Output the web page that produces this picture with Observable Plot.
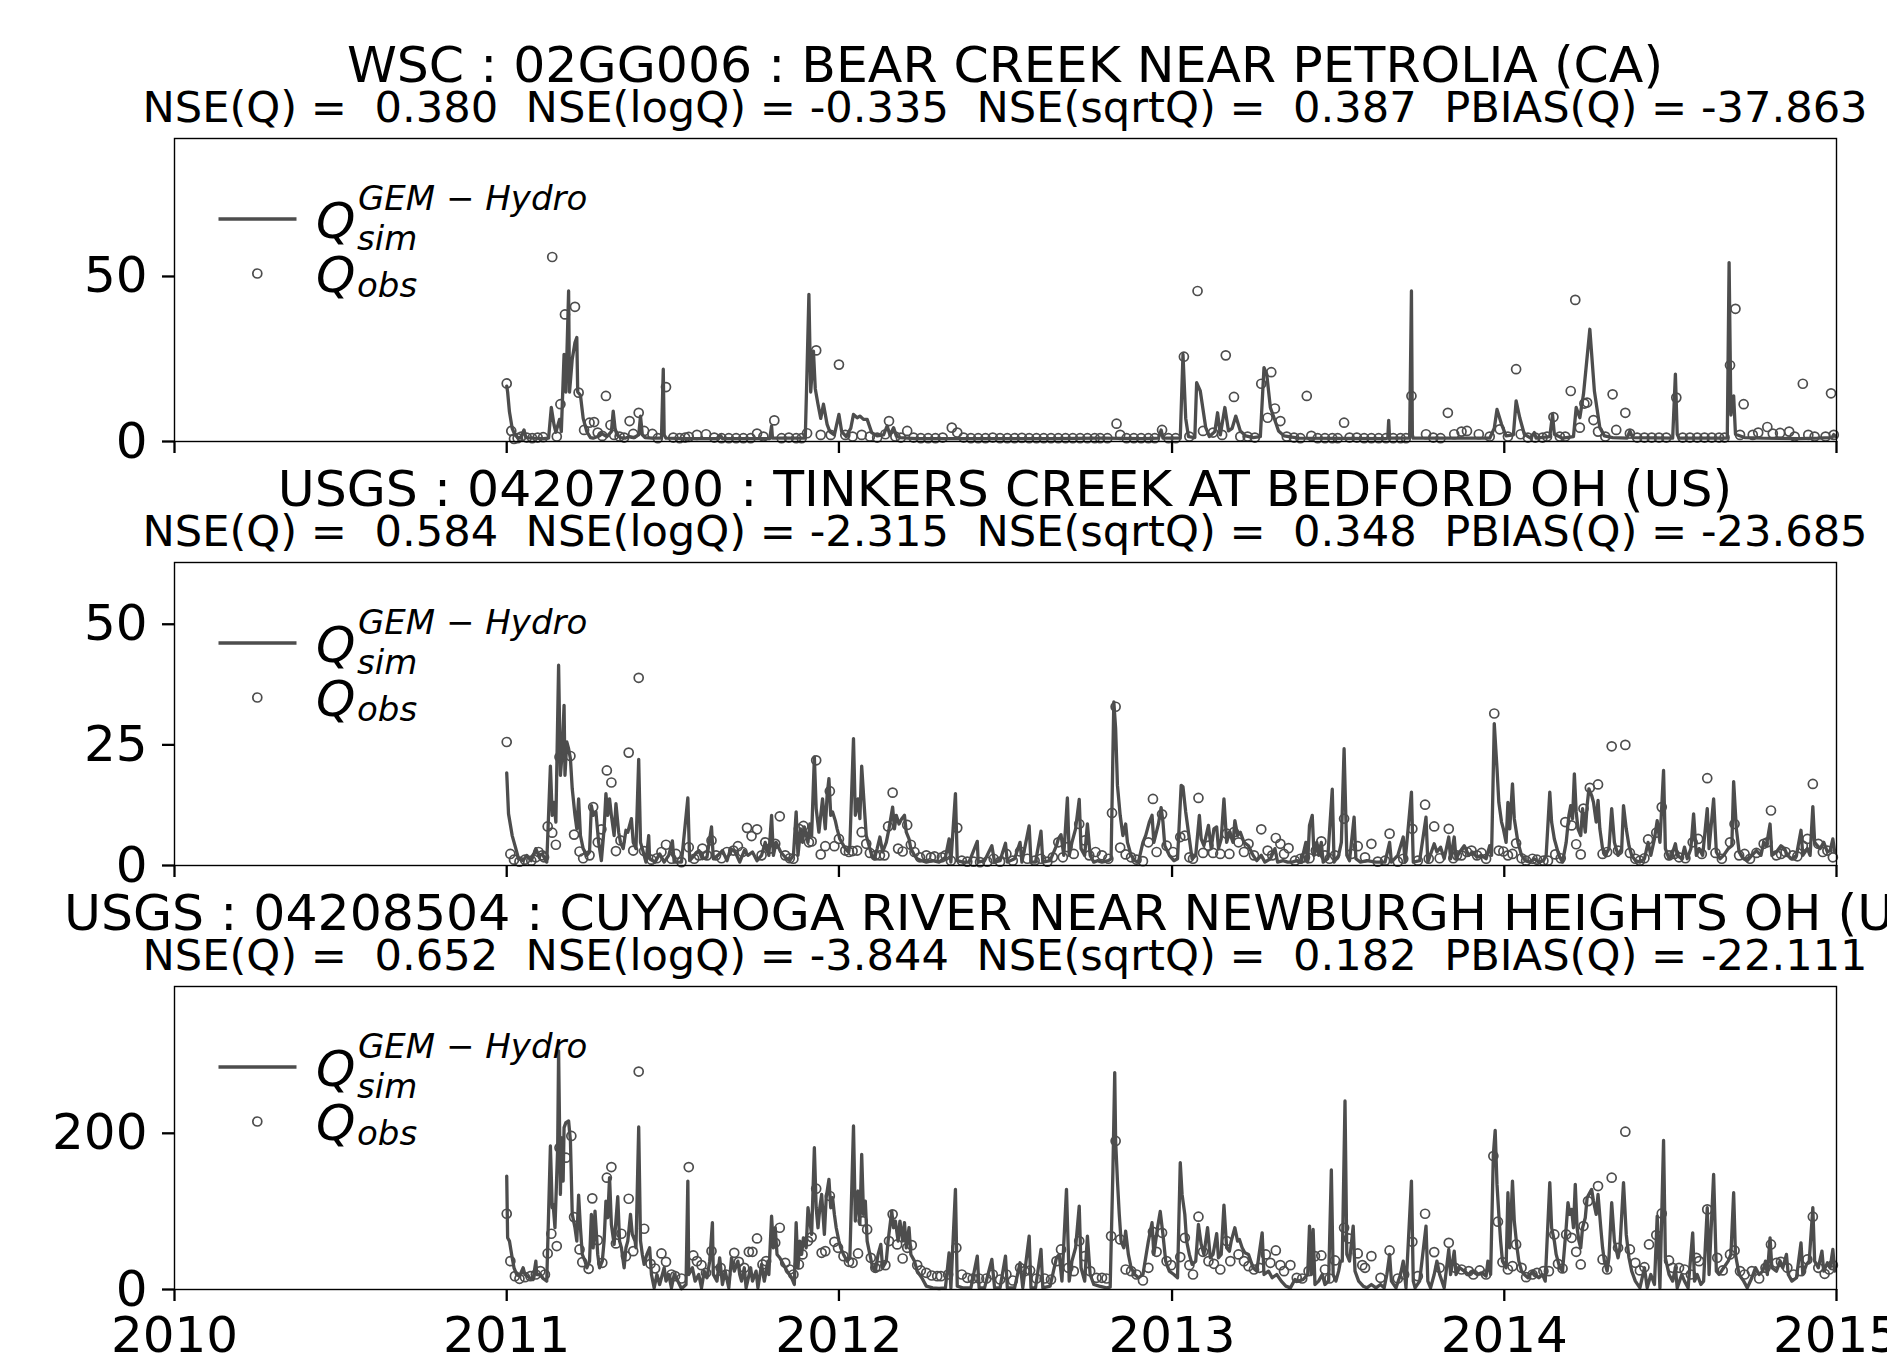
<!DOCTYPE html>
<html>
<head>
<meta charset="utf-8">
<script src="https://cdn.jsdelivr.net/npm/d3@7"></script>
<script src="https://cdn.jsdelivr.net/npm/@observablehq/plot@0.6"></script>
<style>
  html, body { margin: 0; padding: 0; background: #ffffff; }
  #fig { position: relative; width: 1887px; height: 1355px; overflow: hidden; background: #ffffff; font-family: "DejaVu Sans"; }
  #fig svg.plotpanel { position: absolute; left: 0; }
</style>
</head>
<body>
<div id="fig"></div>
<script>
// ---------------- data (day offset from 2011-01-01, discharge) ----------------
const titles = [
  "WSC : 02GG006 : BEAR CREEK NEAR PETROLIA (CA)",
  "USGS : 04207200 : TINKERS CREEK AT BEDFORD OH (US)",
  "USGS : 04208504 : CUYAHOGA RIVER NEAR NEWBURGH HEIGHTS OH (US)"
];
const stats = [
  "NSE(Q) =  0.380  NSE(logQ) = -0.335  NSE(sqrtQ) =  0.387  PBIAS(Q) = -37.863",
  "NSE(Q) =  0.584  NSE(logQ) = -2.315  NSE(sqrtQ) =  0.348  PBIAS(Q) = -23.685",
  "NSE(Q) =  0.652  NSE(logQ) = -3.844  NSE(sqrtQ) =  0.182  PBIAS(Q) = -22.111"
];
const xTickYears = [2010, 2011, 2012, 2013, 2014, 2015];
const yTicks1 = [0, 50];
const yTicks2 = [0, 25, 50];
const yTicks3 = [0, 200];
const yMax = [91.8, 62.8, 388];

const sim1 = [[0,16.8],[1,15],[3,9],[6,4],[9,2],[12,1.2],[15,1],[19,3.5],[21,1.2],[30,1],[40,0.9],[46,1],[49,10.3],[52,5],[54,2.8],[58,6.7],[60,3],[63,26.4],[65,15],[68,45.6],[69,15],[72,25],[75,30],[77,31.5],[78,15],[81,14],[84,7],[88,3],[92,1.2],[95,1],[100,1.5],[104,2.5],[110,1.5],[115,3],[117,9.2],[119,4],[121,2],[125,1.2],[130,1],[135,1.5],[140,1.2],[145,2],[147,7.7],[149,2],[152,1.2],[160,1],[170,1],[172,21.9],[173,2],[175,1],[200,0.9],[233,0.9],[235,1.8],[237,0.9],[289,0.9],[291,4.7],[292,1],[328,1],[330,22],[332,44.6],[334,15],[337,27.4],[339,16],[342,11.3],[345,7],[348,11.3],[352,5.2],[355,3],[360,2],[365,8.2],[368,3],[373,1.5],[378,4],[381,8.2],[385,7.2],[388,7.7],[392,6.7],[396,6.7],[401,2.7],[407,1.7],[414,2],[418,4.7],[421,2],[425,4.2],[428,1.7],[432,1.2],[450,0.9],[520,0.9],[600,0.9],[652,1],[700,0.9],[716,1],[719,3.5],[721,1],[740,1],[743,26.4],[746,7],[749,1.5],[756,1.2],[758,17.8],[762,15.3],[768,4.2],[772,1.5],[778,3],[781,8.7],[784,2],[789,10.3],[793,3.2],[797,4],[801,7.7],[806,3.2],[812,1.7],[820,1.2],[828,1.5],[832,22.4],[835,20.4],[839,10.3],[843,7.2],[848,3.2],[854,1.7],[870,1],[965,0.9],[968,1],[969,6.4],[970,1],[992,1],[994,45.6],[995,2],[996,1],[1080,1],[1085,4],[1088,9.7],[1093,5.2],[1098,1.7],[1106,2],[1109,12.3],[1113,7.2],[1118,2.2],[1125,1],[1129,2.7],[1131,1],[1146,1.5],[1149,8.2],[1151,2.2],[1160,1],[1172,1.5],[1175,10.3],[1179,7.2],[1183,14.3],[1190,34],[1195,15.3],[1201,4.2],[1206,1.7],[1215,1.2],[1231,1],[1234,3.2],[1237,1.2],[1281,1],[1284,20.4],[1286,2.2],[1288,1],[1341,1],[1343,54.2],[1345,8],[1347,13.3],[1348,13.8],[1350,2.2],[1360,1.2],[1380,1],[1420,0.9],[1440,1],[1456,1.2],[1458,2.1],[1460,1.5]];

const obs1 = [[0,17.6],[5,3.2],[8,0.8],[12,1],[16,1.5],[22,1.2],[28,1],[34,1.2],[40,1.3],[50,55.9],[55,1.5],[59,11.3],[64,38.5],[75,40.8],[79,14.8],[85,3.5],[91,5.7],[96,5.9],[100,2.7],[105,1.7],[109,13.8],[114,5],[118,2],[124,1.5],[129,1.2],[135,6.2],[139,2.3],[145,8.7],[151,3.2],[160,2.3],[166,1],[175,16.5],[183,1.2],[190,1],[196,1.2],[200,1.4],[209,2],[219,2.2],[228,1.2],[236,1],[244,1],[252,1],[260,1],[268,1],[275,2.4],[282,1.5],[294,6.4],[302,1],[310,1.2],[318,1],[324,1],[330,2.5],[340,27.6],[345,2],[356,2],[365,23.3],[372,2],[380,1.5],[390,2],[399,1.5],[407,1.2],[416,2.2],[420,6.2],[427,1.5],[433,1.2],[440,3.2],[447,1.2],[455,1],[463,1],[471,1],[479,1.2],[489,4.2],[495,2.7],[502,1.2],[510,1],[518,1],[526,1],[534,1.2],[542,1],[550,1],[558,1],[566,1.1],[574,1],[582,1],[590,1],[598,1],[606,1],[614,1],[622,1],[630,1],[638,1],[646,1],[652,1],[660,1],[670,5.4],[674,2],[681,1],[689,1],[697,1],[705,1],[712,1],[720,3.5],[727,1],[735,1],[744,25.7],[750,1.5],[759,45.6],[765,3.2],[776,2.7],[786,2],[790,26.1],[799,13.5],[806,1.5],[814,1.5],[822,1.2],[829,17.5],[836,7.2],[840,21],[844,10],[850,6.2],[857,1.5],[865,1.2],[872,1],[879,13.8],[884,1.7],[891,1],[899,1],[907,1],[913,1],[920,5.7],[926,1.2],[934,1.2],[942,1],[950,1],[958,1],[966,1],[974,1],[982,1],[988,1],[994,13.8],[1010,2.2],[1018,1.2],[1026,1],[1034,8.7],[1041,2.2],[1049,3],[1055,3.2],[1068,2.2],[1080,1.5],[1091,3.7],[1100,1.5],[1109,21.9],[1114,2.2],[1122,1.2],[1130,1.2],[1138,1.2],[1143,1.5],[1150,7.4],[1157,1.5],[1163,1.5],[1169,15.3],[1174,42.9],[1179,4.2],[1184,11.5],[1187,11.8],[1194,6.5],[1199,3],[1207,1.5],[1215,14.3],[1219,3.5],[1229,8.7],[1234,2.4],[1242,1.2],[1250,1.2],[1258,1.2],[1266,1.2],[1274,1.2],[1285,13.3],[1292,1.2],[1300,1.2],[1308,1.2],[1316,1.2],[1324,1.2],[1332,1.2],[1338,1.2],[1344,23.1],[1350,40.2],[1355,2],[1359,11.3],[1369,2],[1375,2.7],[1385,4.4],[1391,2.4],[1399,2.6],[1409,3],[1415,1.5],[1424,17.5],[1430,2],[1437,1.5],[1449,1.5],[1455,14.6],[1458,2]];

const sim2 = [[0,19.2],[2,10.7],[6,6.2],[10,3.5],[13,1.4],[18,1.0],[22,2.1],[27,1.0],[32,3.5],[35,2.1],[39,2.4],[44,0.7],[48,20.6],[50,10.4],[52,13.1],[54,9.0],[57,41.5],[59,18.7],[61,23.5],[63,33.2],[64,18.7],[66,25.6],[68,24.2],[70,22.1],[72,15.9],[75,10.4],[77,7.6],[79,13.8],[81,6.2],[84,3.5],[88,2.1],[91,2.8],[93,12.4],[95,10.4],[98,11.1],[101,4.8],[104,1.0],[107,7.6],[109,14.9],[111,10.4],[113,13.8],[115,10.4],[118,6.2],[120,12.8],[123,6.9],[125,4.8],[128,3.5],[131,7.3],[133,6.9],[137,9.7],[139,4.8],[142,3.5],[145,22.0],[147,4.8],[150,2.8],[153,0.7],[156,6.2],[157,1.4],[163,0.7],[168,2.4],[173,0.7],[178,2.1],[182,5.1],[184,0.7],[192,0.7],[199,14.0],[201,1.0],[206,2.1],[211,3.1],[215,1.4],[220,1.7],[223,5.5],[225,8.0],[227,1.4],[232,2.1],[237,3.1],[242,1.0],[246,3.5],[251,2.8],[256,0.7],[261,3.1],[265,2.1],[270,2.8],[275,1.0],[280,2.1],[284,4.8],[288,2.1],[291,10.4],[293,2.1],[296,4.8],[301,2.8],[306,1.7],[311,1.0],[315,2.1],[318,11.1],[320,2.1],[323,7.6],[325,4.8],[327,8.0],[331,4.8],[333,8.6],[335,6.2],[338,22.5],[340,11.8],[343,6.9],[345,10.4],[347,13.8],[350,7.6],[352,14.5],[354,18.0],[356,10.4],[358,11.1],[361,9.3],[363,7.6],[366,5.5],[369,4.5],[372,3.5],[375,2.9],[377,4.1],[381,26.3],[383,10.4],[386,13.8],[388,9.7],[390,20.6],[393,11.8],[395,6.2],[399,3.5],[401,2.1],[404,1.4],[407,3.5],[410,5.9],[413,2.8],[417,4.8],[420,7.6],[424,12.1],[426,7.6],[428,10.4],[431,8.6],[434,9.7],[437,10.4],[439,6.9],[442,5.5],[444,3.5],[448,2.1],[451,1.4],[456,1.0],[461,0.7],[468,1.0],[475,0.7],[482,1.7],[486,5.5],[488,0.7],[493,14.9],[495,1.0],[501,0.7],[508,0.7],[517,5.0],[518,0.7],[525,1.0],[533,4.1],[536,0.7],[542,1.0],[548,4.6],[550,0.7],[558,1.4],[564,4.8],[566,0.7],[574,8.2],[576,0.7],[581,0.7],[587,7.1],[589,0.7],[597,1.0],[604,4.1],[606,5.5],[609,6.4],[612,2.1],[616,14.0],[618,2.1],[621,4.8],[625,7.6],[629,13.7],[631,3.5],[635,2.1],[638,8.6],[641,2.1],[645,0.7],[649,1.0],[654,0.7],[661,1.0],[664,1.4],[667,33.9],[669,28.4],[671,16.6],[674,10.4],[677,6.2],[680,8.6],[682,4.8],[686,2.1],[690,1.0],[694,0.7],[699,4.8],[702,6.2],[706,9.0],[709,10.4],[711,4.8],[716,8.6],[719,12.0],[721,9.0],[723,4.1],[728,2.1],[733,1.0],[737,1.4],[741,16.6],[743,16.3],[746,11.1],[750,5.5],[753,1.4],[757,2.1],[761,10.4],[763,5.5],[766,4.1],[771,8.3],[774,3.5],[777,7.6],[780,8.0],[782,3.5],[785,5.5],[788,13.8],[791,4.8],[794,6.9],[798,4.8],[800,9.3],[803,6.2],[806,6.9],[810,4.8],[815,4.1],[820,2.1],[824,1.0],[829,2.1],[833,0.7],[839,1.4],[844,3.5],[847,0.7],[853,1.0],[858,0.7],[863,0.7],[868,1.0],[873,0.7],[878,4.8],[880,0.7],[882,8.3],[885,10.4],[887,2.1],[890,4.8],[892,2.1],[895,4.8],[897,0.7],[902,1.4],[907,15.8],[909,0.7],[914,2.1],[917,4.8],[920,24.2],[923,2.1],[926,1.0],[931,10.0],[933,1.4],[938,0.7],[945,1.0],[955,0.7],[965,0.7],[970,4.8],[972,0.7],[979,2.1],[985,5.9],[987,0.7],[994,15.2],[996,0.7],[1003,1.0],[1010,10.0],[1012,0.7],[1019,4.5],[1022,2.8],[1026,3.8],[1030,1.4],[1035,5.9],[1037,1.4],[1041,5.9],[1043,1.4],[1047,2.8],[1052,4.1],[1057,2.1],[1061,2.8],[1066,1.7],[1071,2.1],[1076,1.4],[1080,4.1],[1082,2.1],[1085,29.4],[1088,20.1],[1090,13.1],[1093,9.0],[1095,7.6],[1098,4.8],[1100,13.1],[1102,7.6],[1105,16.9],[1107,9.7],[1111,4.8],[1115,2.1],[1119,1.0],[1124,0.7],[1129,1.4],[1134,0.7],[1139,1.0],[1142,2.1],[1146,15.2],[1148,9.0],[1151,5.5],[1156,2.1],[1160,0.7],[1164,4.8],[1167,10.4],[1169,12.4],[1171,9.7],[1173,19.0],[1175,11.1],[1177,7.6],[1180,6.2],[1182,11.8],[1185,6.9],[1187,12.4],[1189,15.9],[1192,14.5],[1194,13.1],[1197,9.0],[1199,13.5],[1201,7.6],[1204,3.5],[1207,2.1],[1211,3.5],[1214,11.8],[1217,4.8],[1221,2.1],[1225,3.5],[1227,12.4],[1230,7.6],[1233,4.1],[1236,2.1],[1240,1.0],[1245,0.7],[1250,1.4],[1254,4.8],[1257,2.1],[1261,5.5],[1264,9.3],[1267,4.8],[1271,19.7],[1273,3.5],[1277,1.4],[1280,2.1],[1284,4.5],[1286,2.1],[1291,1.4],[1294,3.8],[1297,1.4],[1301,3.5],[1304,10.7],[1307,2.1],[1310,3.5],[1314,2.1],[1319,11.8],[1321,3.5],[1326,13.8],[1329,2.8],[1333,1.4],[1337,2.1],[1342,3.5],[1346,4.1],[1348,17.4],[1351,7.6],[1354,2.8],[1359,1.4],[1363,1.0],[1368,2.1],[1373,3.1],[1378,2.1],[1381,4.8],[1384,4.1],[1388,8.6],[1390,2.1],[1395,2.8],[1400,4.1],[1404,3.5],[1407,2.1],[1412,1.4],[1417,2.1],[1422,7.3],[1424,2.1],[1429,3.5],[1432,2.1],[1435,12.2],[1437,4.8],[1440,4.1],[1443,3.5],[1447,4.8],[1451,2.8],[1454,3.1],[1457,5.5],[1459,2.8]];

const obs2 = [[0,25.6],[4,2.4],[8,1.2],[14,0.8],[20,1.2],[27,1.0],[32,1.7],[35,2.8],[39,2.1],[41,1.7],[45,8.1],[50,6.8],[54,4.3],[58,22.5],[70,22.7],[74,6.4],[80,2.9],[84,1.5],[91,2.1],[95,12.1],[100,4.8],[104,7.5],[110,19.7],[115,17.2],[120,3.0],[125,5.2],[134,23.4],[139,3.1],[145,38.9],[151,3.0],[159,1.2],[165,1.5],[170,2.8],[175,4.3],[181,1.4],[186,2.4],[192,0.7],[200,3.8],[206,1.4],[211,2.1],[215,3.5],[220,2.1],[225,5.2],[230,2.1],[236,1.5],[242,2.8],[249,3.1],[254,4.0],[259,2.8],[264,7.8],[269,6.1],[275,7.5],[280,2.1],[284,4.8],[289,3.5],[295,4.5],[300,10.2],[306,2.1],[311,1.5],[315,1.4],[321,7.6],[326,8.2],[332,4.8],[335,5.0],[340,21.8],[345,2.3],[350,4.0],[355,15.4],[360,4.0],[365,5.5],[372,3.1],[376,2.8],[380,3.0],[385,3.1],[390,6.9],[395,4.5],[399,2.6],[405,2.1],[410,2.1],[415,2.1],[419,8.1],[424,15.1],[430,3.5],[435,2.9],[440,8.4],[444,4.3],[448,2.8],[454,1.7],[461,2.1],[466,1.7],[470,1.9],[478,1.7],[482,2.1],[488,1.0],[495,7.8],[500,1.0],[506,0.8],[513,0.8],[520,0.7],[528,0.8],[535,1.4],[542,0.8],[549,2.4],[556,1.0],[564,2.9],[572,1.4],[580,1.0],[587,1.4],[594,0.8],[600,1.7],[606,4.8],[611,1.7],[616,3.8],[623,2.4],[629,8.6],[635,5.2],[640,2.1],[647,2.8],[654,2.1],[661,1.4],[665,10.9],[669,32.9],[674,3.7],[680,2.3],[686,1.7],[692,1.2],[699,0.9],[705,4.8],[710,13.8],[714,2.8],[720,10.6],[725,4.1],[732,2.8],[740,5.9],[745,6.2],[750,1.7],[754,1.4],[760,14.0],[765,2.6],[771,4.1],[776,2.6],[784,2.4],[791,6.6],[794,2.4],[799,6.9],[804,4.8],[810,2.8],[815,4.5],[821,2.1],[829,7.5],[836,3.1],[841,2.1],[845,5.7],[850,4.5],[854,2.4],[859,3.6],[866,1.0],[872,1.4],[877,1.7],[882,1.5],[889,3.1],[895,5.0],[899,2.1],[904,1.4],[910,2.1],[920,9.7],[928,2.4],[935,4.0],[943,1.7],[950,4.5],[957,0.8],[965,1.0],[970,6.6],[979,0.8],[985,1.4],[995,7.6],[1001,1.0],[1009,12.6],[1013,1.4],[1019,8.1],[1025,1.5],[1035,7.6],[1040,1.5],[1044,2.1],[1049,2.1],[1055,2.8],[1060,3.1],[1066,2.1],[1071,2.6],[1076,1.4],[1085,31.5],[1090,3.1],[1095,2.9],[1100,2.1],[1105,2.4],[1109,4.6],[1115,1.5],[1120,1.0],[1127,1.4],[1132,1.2],[1139,1.0],[1144,1.0],[1152,2.3],[1158,1.5],[1163,9.0],[1170,8.3],[1175,4.4],[1180,2.3],[1183,11.8],[1190,16.1],[1199,16.8],[1204,2.4],[1209,2.8],[1214,24.7],[1221,3.1],[1229,25.0],[1234,2.6],[1240,1.4],[1245,1.0],[1250,1.5],[1254,5.4],[1263,6.8],[1269,12.1],[1277,2.1],[1283,2.4],[1288,1.7],[1295,1.5],[1303,4.8],[1309,5.5],[1313,2.4],[1319,18.1],[1328,2.6],[1335,1.4],[1344,4.8],[1349,8.6],[1354,2.1],[1360,2.4],[1366,1.4],[1373,2.6],[1381,4.5],[1385,4.8],[1389,11.4],[1395,2.1],[1400,2.4],[1405,2.8],[1413,2.1],[1418,1.9],[1424,4.1],[1429,5.5],[1435,16.9],[1441,4.5],[1446,2.8],[1451,3.1],[1457,1.7]];

const sim3 = [[0,145.3],[1,66.2],[3,62.0],[6,40.6],[8,27.8],[11,19.2],[14,17.1],[18,27.8],[20,19.2],[25,15.0],[29,12.8],[32,36.3],[33,19.2],[37,19.2],[40,14.1],[44,10.7],[48,183.8],[50,104.7],[51,109.0],[53,79.1],[56,181.6],[57,305.6],[59,121.8],[60,194.4],[62,138.9],[63,207.3],[65,213.7],[68,215.8],[70,190.2],[72,96.2],[75,79.1],[77,62.0],[79,120.9],[81,79.1],[83,44.9],[86,36.3],[88,27.8],[91,36.3],[93,96.2],[95,53.4],[97,100.4],[100,44.9],[102,27.8],[105,36.3],[107,62.0],[109,113.2],[111,91.9],[113,143.2],[115,83.3],[118,57.7],[122,118.8],[124,62.0],[126,53.4],[129,27.8],[131,53.4],[133,62.0],[136,96.2],[138,70.5],[141,62.0],[142,53.4],[145,208.1],[147,62.0],[149,44.9],[151,32.1],[154,44.9],[157,53.4],[159,19.2],[162,2.0],[165,19.2],[168,6.4],[173,27.8],[175,10.7],[178,19.2],[181,2.1],[184,19.2],[188,10.7],[192,1.0],[197,6.4],[199,138.9],[200,19.2],[204,27.8],[207,10.7],[211,19.2],[214,2.1],[217,23.5],[220,15.0],[223,36.3],[226,85.5],[227,19.2],[231,10.7],[234,40.6],[237,6.4],[240,23.5],[244,2.1],[247,40.6],[250,23.5],[254,36.3],[256,19.2],[258,10.7],[261,27.8],[263,2.1],[268,27.8],[270,10.7],[274,23.5],[276,2.1],[280,32.1],[283,10.7],[287,36.3],[288,19.2],[291,94.0],[293,53.4],[295,79.1],[297,44.9],[300,40.6],[304,32.1],[308,23.5],[313,15.0],[316,6.4],[318,85.5],[320,27.8],[322,62.0],[324,44.9],[326,66.2],[329,53.4],[331,104.7],[334,79.1],[335,70.5],[338,181.6],[340,104.7],[342,79.1],[344,104.7],[346,121.8],[349,70.5],[351,117.5],[354,141.0],[356,104.7],[358,117.5],[360,96.2],[362,79.1],[365,62.0],[367,53.4],[370,44.9],[374,36.3],[377,40.6],[381,209.4],[383,87.6],[386,126.1],[388,83.3],[390,173.1],[392,96.2],[394,113.2],[396,62.0],[399,44.9],[402,27.8],[405,23.5],[408,44.9],[411,57.7],[413,27.8],[417,36.3],[419,62.0],[423,100.4],[425,79.1],[427,87.6],[430,62.0],[432,87.6],[435,62.0],[437,85.5],[439,53.4],[442,79.1],[444,44.9],[448,36.3],[451,23.5],[456,15.0],[461,4.3],[468,2.1],[475,1.3],[482,2.1],[486,47.0],[488,2.1],[493,128.2],[495,4.3],[501,2.1],[510,2.1],[517,42.7],[519,2.1],[525,2.1],[533,38.5],[536,2.1],[542,2.1],[548,42.7],[550,2.1],[558,2.1],[564,34.2],[567,2.1],[574,68.4],[576,2.1],[581,2.1],[587,51.3],[589,2.1],[597,4.3],[604,40.6],[607,44.9],[610,10.7],[615,128.2],[618,10.7],[621,36.3],[625,53.4],[629,106.8],[631,27.8],[635,10.7],[638,68.4],[641,19.2],[645,6.4],[651,4.3],[659,2.1],[663,3.0],[666,151.7],[668,277.8],[669,190.2],[671,138.9],[673,96.2],[675,62.0],[678,53.4],[680,74.8],[683,44.9],[686,27.8],[690,19.2],[694,15.0],[699,19.2],[702,40.6],[705,62.0],[709,85.5],[711,44.9],[715,79.1],[718,100],[721,70.5],[724,36.3],[728,23.5],[733,19.2],[737,15.0],[740,162.4],[742,121.8],[745,96.2],[747,62.0],[750,44.9],[753,32.1],[757,36.3],[760,83.3],[763,57.7],[766,44.9],[770,79.1],[773,40.6],[776,44.9],[780,71.4],[782,40.6],[785,44.9],[788,108.1],[791,53.4],[794,49.1],[796,62.0],[800,79.1],[803,62.0],[805,64.1],[808,53.4],[811,47.0],[815,44.9],[820,27.8],[824,23.5],[830,72.6],[832,19.2],[837,23.5],[841,15.0],[846,19.2],[851,10.7],[856,4.3],[861,2.1],[866,12.8],[870,10.7],[875,12.8],[880,19.2],[882,81.2],[884,19.2],[886,76.9],[888,6.4],[892,10.7],[896,19.2],[899,6.4],[903,10.7],[906,153.0],[908,19.2],[911,10.7],[914,23.5],[916,36.3],[918,36.3],[921,241.5],[923,44.9],[926,36.3],[930,81.2],[932,23.5],[936,10.7],[941,4.3],[945,2.1],[950,6.4],[955,2.1],[960,6.4],[964,2.1],[967,19.2],[970,44.9],[972,10.7],[977,2.1],[982,19.2],[985,36.3],[988,2.1],[994,138.9],[996,10.7],[998,2.1],[1003,10.7],[1010,81.2],[1012,10.7],[1015,2.1],[1019,19.2],[1022,36.3],[1025,19.2],[1030,2.1],[1035,51.3],[1037,19.2],[1041,49.1],[1043,19.2],[1047,27.8],[1052,23.5],[1057,19.2],[1061,23.5],[1066,19.2],[1071,21.4],[1076,17.1],[1078,36.3],[1081,19.2],[1084,173.1],[1086,203.8],[1088,134.6],[1090,96.2],[1092,62.0],[1094,36.3],[1098,27.8],[1100,123.9],[1102,53.4],[1105,138.9],[1107,87.6],[1110,53.4],[1112,36.3],[1115,23.5],[1118,19.2],[1122,15.0],[1127,23.5],[1130,19.2],[1134,15.0],[1138,19.2],[1141,10.7],[1146,136.8],[1148,79.1],[1151,62.0],[1153,44.9],[1157,27.8],[1160,23.5],[1164,79.1],[1166,111.1],[1168,96.2],[1170,102.6],[1172,79.1],[1174,134.6],[1176,79.1],[1178,62.0],[1180,53.4],[1182,79.1],[1185,91.9],[1187,117.5],[1189,121.8],[1192,128.2],[1194,113.2],[1197,96.2],[1199,121.8],[1202,79.1],[1204,53.4],[1206,36.3],[1209,23.5],[1211,40.6],[1214,111.1],[1217,62.0],[1221,40.6],[1223,53.4],[1227,136.8],[1230,70.5],[1233,40.6],[1236,23.5],[1240,10.7],[1245,2.1],[1250,27.8],[1253,2.1],[1257,19.2],[1261,6.4],[1264,94.0],[1267,2.1],[1271,191.0],[1273,40.6],[1277,19.2],[1281,10.7],[1284,27.8],[1286,2.1],[1291,19.2],[1294,10.7],[1298,2.1],[1303,72.6],[1305,10.7],[1308,19.2],[1312,6.4],[1315,10.7],[1319,104.7],[1321,19.2],[1326,147.4],[1329,23.5],[1332,19.2],[1337,27.8],[1342,36.3],[1345,44.9],[1348,123.9],[1350,44.9],[1354,19.2],[1359,10.7],[1363,2.1],[1368,15.0],[1372,27.8],[1376,19.2],[1380,23.5],[1383,36.3],[1385,19.2],[1388,66.2],[1390,27.8],[1395,23.5],[1399,36.3],[1402,27.8],[1406,44.9],[1408,19.2],[1412,10.7],[1417,15.0],[1422,59.8],[1424,19.2],[1428,32.1],[1431,36.3],[1435,104.7],[1437,36.3],[1441,27.8],[1445,49.1],[1447,23.5],[1451,34.2],[1454,27.8],[1457,51.3],[1459,23.5]];

const obs3 = [[0,97.0],[4,36.3],[9,17.1],[14,13.7],[20,15.8],[26,17.1],[32,19.2],[37,23.5],[42,19.2],[45,46.2],[49,71.4],[55,55.6],[58,181.6],[65,168.8],[71,196.6],[74,92.7],[80,51.3],[83,35.0],[90,26.5],[94,116.7],[100,63.2],[105,34.2],[110,143.2],[115,156.8],[120,59.0],[126,71.4],[131,42.7],[134,116.2],[139,49.1],[145,279.1],[151,77.8],[158,32.9],[163,26.9],[170,46.2],[175,35.5],[181,19.2],[185,17.1],[192,14.1],[200,156.8],[205,43.6],[209,36.3],[214,31.2],[219,21.4],[225,49.1],[231,23.5],[235,27.8],[241,19.2],[250,47.0],[255,35.5],[261,27.8],[266,48.3],[270,48.3],[275,65.4],[281,32.1],[285,36.3],[295,59.8],[300,79.1],[306,34.2],[311,25.6],[315,19.2],[321,32.1],[325,44.9],[331,62.0],[335,67.1],[340,129.1],[346,47.0],[350,49.1],[355,119.7],[360,61.1],[364,53.4],[370,42.7],[376,35.5],[380,34.2],[386,46.2],[391,87.6],[396,76.9],[400,40.6],[405,27.8],[409,29.9],[416,31.2],[420,62.0],[424,96.2],[429,57.7],[435,39.7],[440,53.4],[445,56.8],[451,31.2],[455,24.4],[461,21.4],[467,17.9],[473,17.1],[477,17.1],[485,19.2],[494,53.4],[500,19.2],[506,15.0],[512,14.1],[519,14.1],[527,14.1],[534,19.2],[542,12.8],[549,19.2],[556,11.5],[564,27.8],[569,23.5],[575,24.4],[582,14.1],[591,14.1],[598,12.8],[604,36.3],[609,51.3],[617,27.8],[623,23.5],[629,62.0],[635,42.7],[641,23.5],[648,15.0],[654,15.0],[659,14.1],[664,68.4],[669,190.2],[674,64.1],[680,25.6],[686,23.5],[692,19.2],[699,11.5],[705,27.8],[710,73.9],[714,48.3],[720,72.6],[725,36.3],[730,31.2],[740,41.5],[745,66.2],[750,31.2],[754,19.2],[760,93.2],[765,48.3],[771,36.3],[777,32.9],[784,25.6],[791,62.0],[795,36.3],[804,44.9],[810,36.3],[815,29.9],[821,25.6],[827,27.8],[834,44.9],[839,34.2],[845,50.0],[850,31.2],[854,23.5],[861,31.2],[868,15.0],[874,14.1],[881,23.5],[888,42.7],[895,43.6],[899,25.6],[904,14.1],[910,37.2],[920,79.1],[925,65.4],[935,46.2],[940,31.2],[943,27.8],[950,42.7],[960,15.0],[970,50.0],[979,14.1],[986,19.2],[995,61.1],[1001,17.1],[1009,97.0],[1019,47.9],[1025,27.8],[1035,59.8],[1042,27.8],[1049,25.6],[1057,23.5],[1062,19.2],[1069,24.4],[1076,19.2],[1084,170.9],[1089,86.8],[1094,35.0],[1100,25.6],[1105,29.9],[1109,57.7],[1115,27.8],[1120,15.8],[1127,19.2],[1132,21.4],[1139,23.5],[1145,23.5],[1151,70.5],[1155,32.9],[1160,26.9],[1164,70.5],[1170,66.2],[1175,48.3],[1180,32.1],[1183,81.2],[1188,113.2],[1199,132.5],[1204,38.5],[1209,25.6],[1214,143.2],[1221,53.4],[1229,202.1],[1234,51.3],[1240,34.2],[1245,24.4],[1250,28.6],[1255,57.7],[1263,69.7],[1269,97.4],[1277,37.2],[1281,27.8],[1288,27.8],[1294,25.6],[1301,19.2],[1307,40.6],[1310,36.3],[1319,102.6],[1330,40.6],[1336,24.4],[1344,44.9],[1349,50.0],[1355,23.5],[1360,19.2],[1368,23.5],[1376,14.1],[1383,27.8],[1389,57.7],[1395,34.2],[1400,35.5],[1407,27.8],[1414,19.2],[1422,23.5],[1429,38.5],[1435,93.2],[1441,27.8],[1448,20.1],[1453,25.6],[1457,31.2]];

// ---------------- layout ----------------
const W = 1887, H = 1355;
const ML = 174, MR = 51, AH = 303, MT = 20, MB = 70;
const axesTops = [137.5, 561.5, 985.5];
const GRAY = "#4d4d4d";
const DAY = 86400000, BASE = Date.UTC(2011, 0, 1);
const toRows = arr => arr.map(([d, q]) => ({date: new Date(BASE + d * DAY), q}));
const xTicks = xTickYears.map(y => new Date(Date.UTC(y, 0, 1)));

const panels = [
  {sim: sim1, obs: obs1, yTicks: yTicks1},
  {sim: sim2, obs: obs2, yTicks: yTicks2},
  {sim: sim3, obs: obs3, yTicks: yTicks3}
];

const fig = document.getElementById("fig");

panels.forEach((p, i) => {
  const showLabels = i === panels.length - 1;
  const svg = Plot.plot({
    width: W,
    height: MT + AH + MB,
    marginLeft: ML, marginRight: MR, marginTop: MT, marginBottom: MB,
    style: {fontFamily: "DejaVu Sans", background: "transparent", overflow: "visible", color: "black", maxWidth: "none"},
    x: {type: "utc", domain: [xTicks[0], xTicks[xTicks.length - 1]]},
    y: {domain: [0, yMax[i]]},
    marks: [
      Plot.line(toRows(p.sim), {x: "date", y: "q", stroke: GRAY, strokeWidth: 3.3, strokeLinejoin: "round"}),
      Plot.dot(toRows(p.obs), {x: "date", y: "q", r: 4.5, stroke: GRAY, strokeWidth: 1.7, fill: "none"}),
      Plot.frame({stroke: "black", strokeWidth: 1.4}),
      Plot.axisX({ticks: xTicks, tickSize: 12, tickPadding: 15, strokeWidth: 2.3, fontSize: 50, label: null,
                  tickFormat: showLabels ? d3.utcFormat("%Y") : () => ""}),
      Plot.axisY({ticks: p.yTicks, tickSize: 12, tickPadding: 15, strokeWidth: 2.3, fontSize: 50, label: null,
                  tickFormat: d => String(d)})
    ]
  });
  svg.classList.add("plotpanel");
  svg.style.top = (axesTops[i] - MT) + "px";
  fig.appendChild(svg);
});

// ---------------- titles and legends ----------------
const ov = d3.select("#fig").append("svg")
  .attr("width", W).attr("height", H)
  .style("position", "absolute").style("left", "0px").style("top", "0px")
  .attr("font-family", "DejaVu Sans");

const cx = ML + (W - ML - MR) / 2;
axesTops.forEach((T, i) => {
  ov.append("text").attr("x", cx).attr("y", T - 56).attr("text-anchor", "middle")
    .attr("font-size", 50.5).attr("fill", "black").text(titles[i]);
  ov.append("text").attr("x", cx).attr("y", T - 16).attr("text-anchor", "middle")
    .attr("font-size", 43.2).attr("fill", "black").attr("xml:space", "preserve")
    .style("white-space", "pre").text(stats[i]);

  const g = ov.append("g");
  g.append("line").attr("x1", 218.5).attr("x2", 296.5).attr("y1", T + 81.5).attr("y2", T + 81.5)
    .attr("stroke", GRAY).attr("stroke-width", 3.3);
  g.append("circle").attr("cx", 257.3).attr("cy", T + 136).attr("r", 4.5)
    .attr("fill", "none").attr("stroke", GRAY).attr("stroke-width", 1.7);
  const it = (x, y, size, s) => g.append("text").attr("x", x).attr("y", y)
    .attr("font-size", size).attr("font-style", "italic").attr("fill", "black")
    .attr("xml:space", "preserve").style("white-space", "pre").text(s);
  it(316, T + 100.5, 50, "Q");
  it(358, T + 72.5, 34, "GEM \u2212 Hydro");
  it(357, T + 112.5, 34, "sim");
  it(316, T + 154, 50, "Q");
  it(357, T + 159.5, 34, "obs");
});
</script>
</body>
</html>
